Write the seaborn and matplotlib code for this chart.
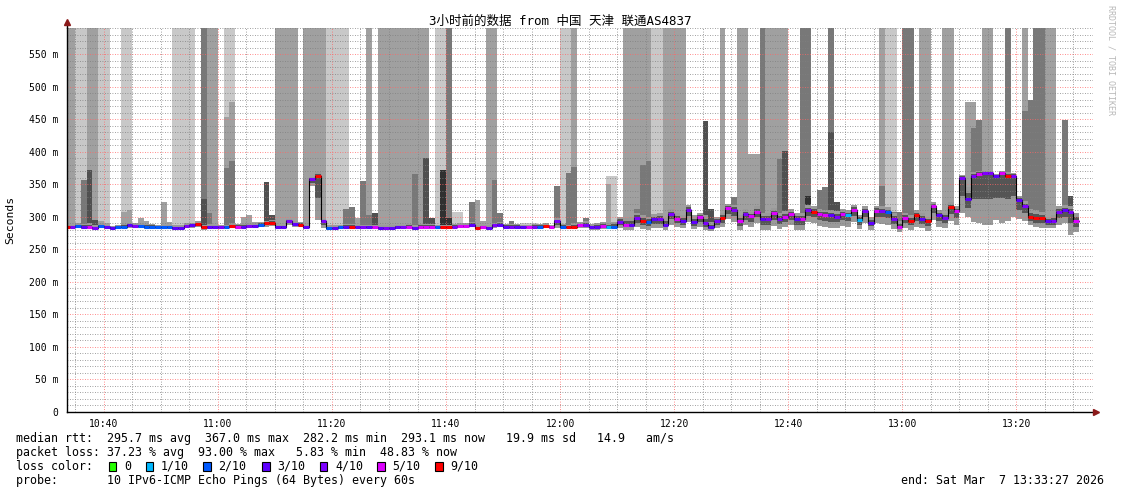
import matplotlib
matplotlib.use('Agg')
import matplotlib.pyplot as plt
from matplotlib.patches import Rectangle
from matplotlib.lines import Line2D
import seaborn as sns
import pandas as pd
import numpy as np

sns.set_theme(style='white')
plt.rcParams['font.family'] = ['DejaVu Sans Mono', 'Noto Sans CJK SC']
plt.rcParams['axes.unicode_minus'] = False

# one column per minute, first column 10:33
first_minute = 10 * 60 + 33

# median rtt (ms) per minute
med = [284, 284, 286, 285, 285, 283, 286, 284, 283, 284,
       285, 287, 286, 286, 285, 285, 284, 284, 284, 283,
       283, 286, 287, 289, 284, 284, 284, 284, 284, 286,
       285, 285, 286, 286, 288, 290, 291, 284, 284, 293,
       289, 288, 284, 358, 362, 293, 283, 283, 284, 285,
       285, 284, 284, 284, 284, 283, 283, 283, 284, 284,
       285, 283, 285, 285, 285, 284, 284, 284, 285, 286,
       286, 288, 283, 284, 283, 287, 288, 285, 285, 285,
       284, 284, 285, 285, 286, 284, 293, 285, 284, 284,
       287, 287, 284, 284, 286, 285, 285, 292, 288, 288,
       298, 294, 292, 296, 296, 288, 304, 297, 294, 311,
       292, 299, 290, 284, 293, 298, 313, 311, 293, 304,
       301, 308, 296, 296, 305, 296, 300, 304, 296, 296,
       310, 308, 304, 303, 302, 300, 304, 302, 311, 295,
       309, 291, 309, 309, 307, 296, 285, 298, 294, 303,
       297, 293, 316, 303, 298, 315, 309, 360, 327, 363,
       366, 367, 367, 362, 367, 363, 363, 325, 316, 300,
       298, 298, 293, 293, 308, 310, 308, 294]

# lost pings out of 10 per minute
loss = [9, 4, 2, 3, 5, 4, 2, 3, 3, 2,
        2, 3, 4, 2, 2, 2, 2, 2, 2, 3,
        3, 4, 3, 9, 9, 3, 3, 4, 2, 9,
        5, 3, 4, 3, 2, 9, 9, 3, 3, 4,
        3, 9, 3, 4, 9, 4, 2, 3, 2, 3,
        9, 3, 4, 3, 5, 3, 4, 3, 3, 4,
        5, 3, 5, 5, 5, 2, 9, 9, 4, 5,
        5, 3, 9, 5, 3, 4, 3, 3, 4, 3,
        3, 5, 4, 2, 9, 5, 4, 2, 9, 9,
        5, 4, 3, 3, 5, 1, 2, 4, 5, 3,
        4, 9, 2, 3, 4, 3, 4, 5, 3, 4,
        3, 5, 4, 3, 4, 9, 5, 4, 5, 4,
        5, 5, 3, 4, 5, 4, 5, 5, 3, 5,
        4, 9, 5, 5, 3, 4, 5, 1, 5, 1,
        4, 3, 5, 4, 2, 4, 5, 5, 9, 9,
        3, 9, 5, 3, 4, 9, 5, 4, 3, 4,
        5, 4, 4, 3, 5, 9, 4, 3, 4, 9,
        9, 9, 3, 4, 4, 3, 4, 5]

# lower / upper edge of the smoke around the median
lo = [281, 281, 282, 281, 281, 280, 282, 281, 280, 281,
      282, 282, 282, 282, 281, 281, 281, 281, 281, 280,
      280, 282, 283, 285, 280, 281, 281, 281, 281, 282,
      281, 281, 282, 282, 284, 285, 286, 281, 281, 288,
      285, 284, 281, 347, 295, 283, 280, 280, 281, 281,
      281, 281, 281, 281, 281, 280, 280, 280, 281, 281,
      281, 280, 281, 281, 281, 281, 281, 281, 281, 282,
      282, 284, 280, 281, 280, 283, 284, 281, 281, 281,
      281, 281, 281, 281, 282, 281, 283, 281, 281, 281,
      282, 282, 280, 280, 281, 281, 281, 282, 280, 280,
      284, 281, 280, 282, 283, 279, 288, 284, 282, 292,
      281, 284, 280, 278, 282, 284, 296, 292, 280, 287,
      284, 290, 280, 279, 286, 281, 284, 287, 279, 280,
      292, 290, 286, 285, 283, 283, 286, 284, 292, 281,
      290, 280, 290, 289, 288, 281, 276, 283, 280, 285,
      282, 278, 295, 285, 282, 294, 288, 305, 300, 292,
      290, 288, 288, 295, 290, 293, 300, 296, 294, 287,
      284, 283, 283, 282, 288, 290, 272, 276]
hi = [287, 288, 290, 289, 290, 287, 290, 288, 286, 288,
      289, 291, 290, 290, 289, 289, 288, 288, 288, 287,
      287, 290, 291, 293, 288, 289, 288, 287, 288, 290,
      289, 289, 290, 290, 292, 294, 295, 288, 288, 297,
      293, 292, 288, 361, 369, 297, 287, 287, 288, 289,
      289, 288, 288, 288, 288, 287, 287, 287, 288, 288,
      289, 287, 289, 289, 289, 288, 288, 288, 289, 290,
      290, 292, 287, 288, 287, 291, 292, 289, 289, 289,
      288, 288, 289, 289, 290, 288, 298, 289, 288, 290,
      292, 293, 289, 290, 292, 291, 292, 300, 298, 300,
      306, 302, 300, 304, 306, 298, 312, 305, 303, 318,
      302, 306, 302, 292, 300, 306, 320, 318, 303, 312,
      308, 316, 305, 306, 313, 305, 309, 312, 305, 306,
      318, 316, 312, 311, 310, 309, 312, 310, 318, 303,
      316, 300, 317, 316, 315, 305, 294, 306, 302, 310,
      305, 300, 322, 310, 306, 322, 316, 364, 345, 368,
      370, 371, 371, 366, 371, 368, 367, 332, 324, 312,
      310, 308, 300, 302, 316, 318, 316, 305]

# runs of columns whose smoke goes off the top (first col, last col, shade)
tall_from = [0, 2, 4, 6, 10, 19, 24, 25, 28, 37, 42, 46, 53, 55, 65, 67, 74,
             87, 89, 98, 103, 105, 115, 118, 122, 123, 129, 134, 143, 144,
             147, 150, 154, 161, 165, 168, 170, 172]
tall_to = [1, 3, 5, 7, 11, 22, 24, 26, 29, 40, 45, 49, 53, 63, 66, 67, 75,
           88, 89, 102, 104, 108, 115, 119, 122, 126, 130, 134, 143, 145,
           148, 151, 155, 162, 165, 168, 171, 173]
tall_shade = [2, 1, 2, 1, 1, 1, 3, 2, 1, 2, 2, 1, 2, 2, 1, 3, 2,
              1, 2, 2, 1, 2, 2, 2, 3, 2, 3, 3, 2, 1,
              3, 2, 2, 2, 3, 2, 3, 2]

# single smoke spikes (column, top in ms, shade)
spike_col = [3, 4, 5, 6, 7, 10, 11, 13, 14, 17, 18, 24, 25, 28, 28, 29, 29,
             31, 32, 33, 35, 36, 45, 49, 50, 51, 52, 53, 54, 61, 63, 64, 66,
             67, 68, 69, 71, 72, 73, 75, 76, 78, 80, 81, 82, 86, 88, 89,
             91, 95, 96, 95, 100, 101, 102, 106, 112, 113, 117, 120, 121,
             125, 126, 130, 132, 133, 134, 135, 143, 145, 146, 158, 159,
             159, 160, 168, 169, 175, 176]
spike_top = [357, 372, 295, 294, 290, 308, 311, 298, 293, 323, 292, 328, 305,
             454, 375, 477, 386, 300, 302, 292, 354, 302, 295, 312, 315, 298,
             355, 303, 306, 365, 391, 298, 372, 298, 308, 308, 323, 326, 293,
             357, 305, 293, 291, 291, 291, 348, 367, 377,
             298, 362, 362, 350, 312, 379, 386, 310, 447, 312, 330, 396, 396,
             389, 401, 332, 341, 346, 430, 323, 347, 308, 308, 477, 477,
             436, 448, 463, 480, 449, 332]
spike_shade = [3, 4, 4, 2, 2, 2, 2, 2, 2, 2, 2, 4, 3, 2, 3, 2, 3,
               2, 2, 2, 4, 4, 4, 3, 3, 2, 3, 3, 4, 3, 4, 4, 5,
               5, 1, 1, 3, 2, 2, 3, 3, 3, 1, 1, 1, 3, 3, 3,
               3, 1, 1, 2, 3, 3, 3, 3, 4, 4, 3, 2, 2,
               3, 4, 5, 3, 3, 4, 4, 3, 3, 3, 2, 2,
               3, 3, 3, 3, 3, 4]

loss_steps = [0, 1, 2, 3, 4, 5, 9]
loss_names = ['0', '1/10', '2/10', '3/10', '4/10', '5/10', '9/10']
loss_colors = ['#26ff00', '#00b8ff', '#0059ff', '#5e00ff', '#7e00ff', '#dd00ff', '#ff0000']
shades = {1: '#c8c8c8', 2: '#a0a0a0', 3: '#787878', 4: '#505050', 5: '#303030'}

title = '3小时前的数据 from 中国 天津 联通AS4837'
stats = ['median rtt:  295.7 ms avg  367.0 ms max  282.2 ms min  293.1 ms now   19.9 ms sd   14.9   am/s',
         'packet loss: 37.23 % avg  93.00 % max   5.83 % min  48.83 % now']
probe = 'probe:       10 IPv6-ICMP Echo Pings (64 Bytes) every 60s'
end_txt = 'end: Sat Mar  7 13:33:27 2026'

df = pd.DataFrame({'t': first_minute + np.arange(len(med)), 'med': med,
                   'loss': loss, 'lo': lo, 'hi': hi})
col_of = dict(zip(loss_steps, loss_colors))

W, H = 1121, 494
fx = lambda px: px / W
fy = lambda py: 1 - py / H

fig = plt.figure(figsize=(W / 100, H / 100), dpi=100)
fig.patch.set_facecolor('white')
ax = fig.add_axes([fx(66.5), fy(412), (1093 - 66.5) / W, (412 - 28) / H])
ax.set_facecolor('white')

# smoke going off the top
tx, tb, tc = [], [], []
for a, b, s in zip(tall_from, tall_to, tall_shade):
    for j in range(a, b + 1):
        tx.append(df.t[j]); tb.append(df.lo[j]); tc.append(shades[s])
ax.bar(tx, [700 - v for v in tb], bottom=tb, width=1.0, align='edge',
       color=tc, linewidth=0, antialiased=False, zorder=1)

# partial spikes, lighter first
order = sorted(range(len(spike_col)), key=lambda k: spike_shade[k])
ax.bar([df.t[spike_col[k]] for k in order],
       [spike_top[k] - df.lo[spike_col[k]] for k in order],
       bottom=[df.lo[spike_col[k]] for k in order], width=1.0, align='edge',
       color=[shades[spike_shade[k]] for k in order], linewidth=0,
       antialiased=False, zorder=1.2)

# smoke around the median
ax.bar(df.t, df.hi - df.lo, bottom=df.lo, width=1.0, align='edge',
       color='#9a9a9a', linewidth=0, antialiased=False, zorder=1.4)
core_lo = (df.lo + df.med) / 2
core_hi = (df.hi + df.med) / 2
ax.bar(df.t, core_hi - core_lo, bottom=core_lo, width=1.0, align='edge',
       color='#555555', linewidth=0, antialiased=False, zorder=1.5)

# median: thin black step line + loss coloured segments
step = pd.DataFrame({'t': list(df.t) + [df.t.iloc[-1] + 1],
                     'med': list(df.med) + [df.med.iloc[-1]]})
sns.lineplot(data=step, x='t', y='med', drawstyle='steps-post', color='black',
             lw=0.8, estimator=None, sort=False, ax=ax, zorder=3)
ax.hlines(df.med, df.t, df.t + 1, colors=[col_of[l] for l in df.loss],
          lw=2.2, capstyle='butt', zorder=4)

ax.set_xlim(first_minute + 27 / 60, first_minute + 180 + 27 / 60)
ax.set_ylim(0, 590)
ax.set_xlabel('')
ax.set_ylabel('')
ax.set_xticks(np.arange(640, 811, 20))
ax.set_xticks(np.arange(635, 815, 5), minor=True)
ax.set_xticklabels([f'{m // 60}:{m % 60:02d}' for m in range(640, 811, 20)])
ax.set_yticks(np.arange(0, 551, 50))
ax.set_yticks(np.arange(0, 591, 10), minor=True)
ax.set_yticklabels(['0'] + [f'{v} m' for v in range(50, 551, 50)])
ax.tick_params(axis='both', which='major', labelsize=7, length=3, width=0.7,
               color='black', labelcolor='black', direction='out', pad=2)
ax.tick_params(axis='both', which='minor', length=1.5, width=0.6, color='black',
               direction='out')
ax.tick_params(axis='y', which='major', pad=3)

ax.set_axisbelow(False)
ax.grid(which='minor', color=(0.5, 0.5, 0.5, 0.17), linestyle=(0, (1, 2)), lw=0.6)
ax.grid(which='major', color=(1.0, 0.4, 0.4, 0.5), linestyle=(0, (1, 2)), lw=0.6)

for s in ['top', 'right']:
    ax.spines[s].set_visible(False)
for s in ['left', 'bottom']:
    ax.spines[s].set_color('black')
    ax.spines[s].set_linewidth(1.0)
    ax.spines[s].set_zorder(5)

# axis arrows
fig.add_artist(Line2D([fx(66.5), fx(66.5)], [fy(28), fy(23)], color='black', lw=1.0))
fig.add_artist(Line2D([fx(1093), fx(1096)], [fy(412), fy(412)], color='black', lw=1.0))
fig.add_artist(Line2D([fx(66.5)], [fy(22)], marker='^', ms=4, color='#8b1a1a', lw=0))
fig.add_artist(Line2D([fx(1096)], [fy(412)], marker='>', ms=4, color='#8b1a1a', lw=0))

fig.text(fx(560), fy(21), title, ha='center', va='center', fontsize=9, color='black')
fig.text(fx(10), fy(220), 'Seconds', rotation=90, ha='center', va='center',
         fontsize=8.2, color='black')
fig.text(fx(1111), fy(5), 'RRDTOOL / TOBI OETIKER', rotation=-90, ha='center',
         va='top', fontsize=6, color='#b8b8b8')

tkw = dict(ha='left', va='center', fontsize=8.4, color='black')
fig.text(fx(16), fy(438), stats[0], **tkw)
fig.text(fx(16), fy(452), stats[1], **tkw)
fig.text(fx(16), fy(466), 'loss color:', **tkw)
fig.text(fx(16), fy(480), probe, **tkw)
fig.text(fx(1104), fy(480), end_txt, ha='right', va='center', fontsize=8.4, color='black')

box_x = [108.5, 145.5, 203, 262, 319.5, 377, 435]
for bx, name, c in zip(box_x, loss_names, loss_colors):
    fig.add_artist(Rectangle((fx(bx), fy(470.5)), 7.5 / W, 9 / H, facecolor=c,
                             edgecolor='black', lw=0.8, transform=fig.transFigure))
    fig.text(fx(bx + 15.5), fy(466), name, **tkw)

fig.savefig('out.png', dpi=100, facecolor='white')
